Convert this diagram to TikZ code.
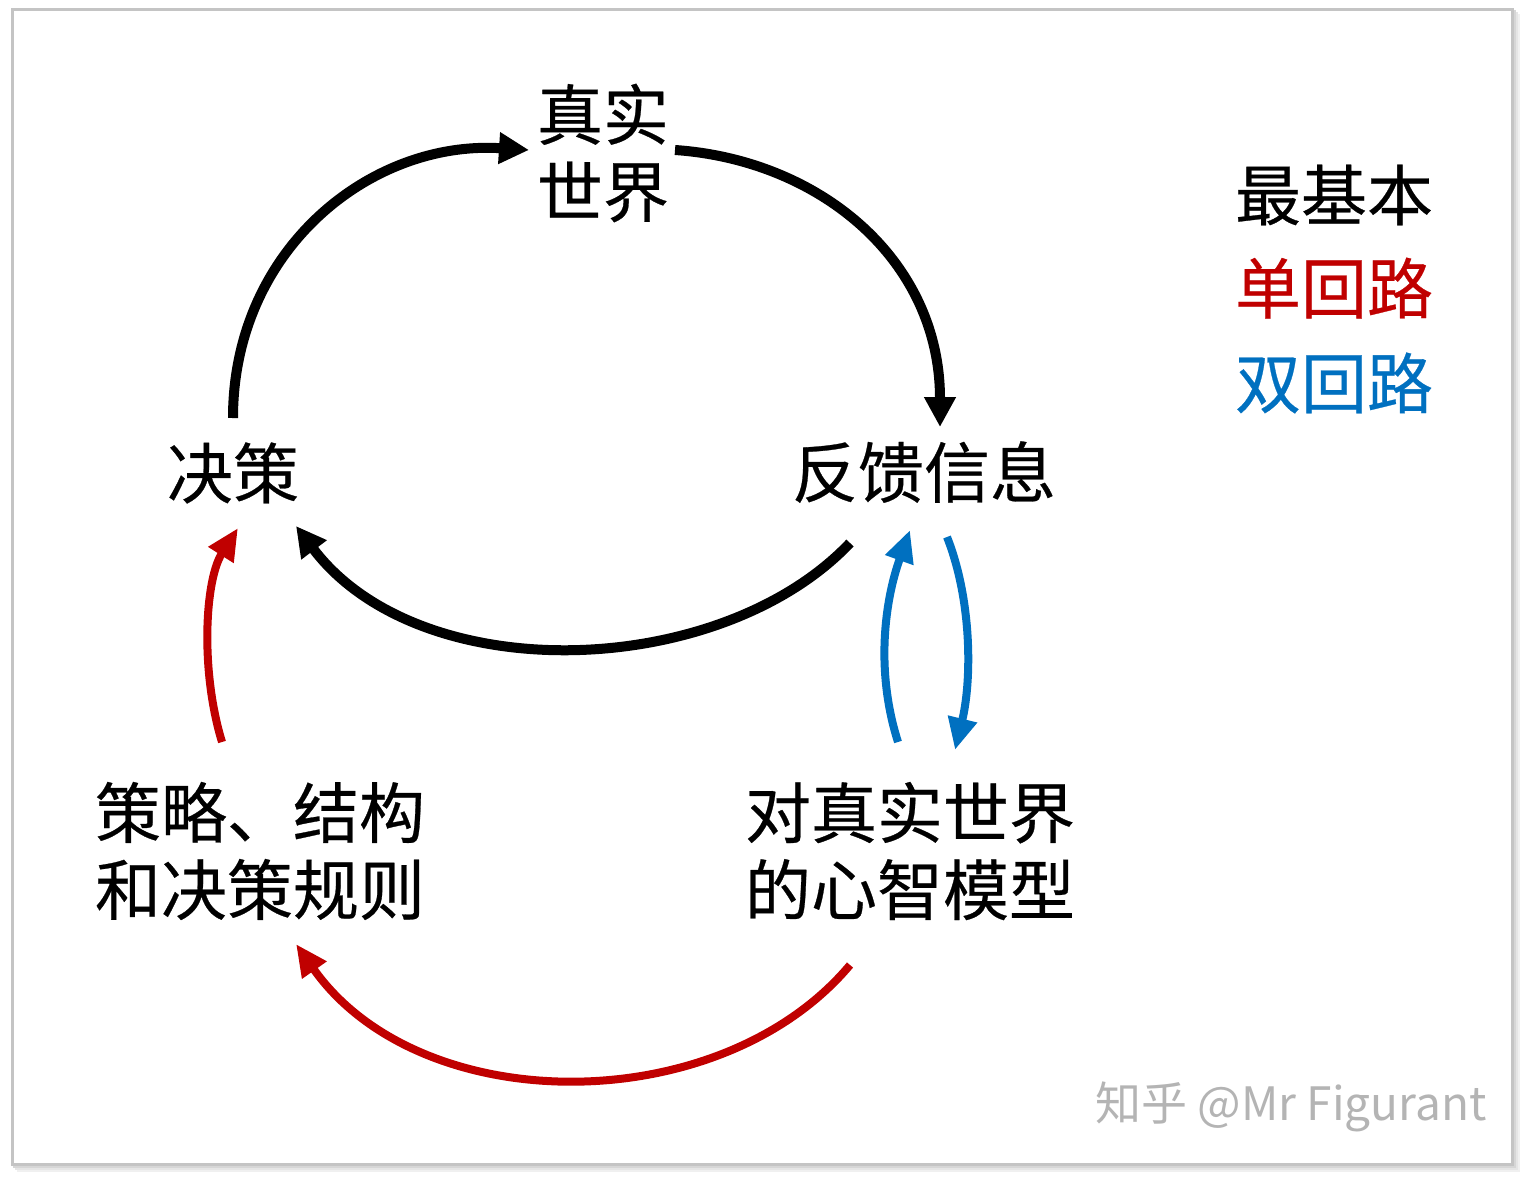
\documentclass[tikz,border=0pt]{standalone}
\usepackage{fontspec}
\setmainfont{Noto Sans CJK SC}
\newfontfamily\cjk[FakeBold=0.4]{Noto Sans CJK SC}
\newfontfamily\cjkwm{Noto Sans CJK SC}
\usetikzlibrary{arrows.meta}
\definecolor{myred}{HTML}{C00000}
\definecolor{myblue}{HTML}{0070C0}
\definecolor{frameg}{HTML}{C4C4C4}
\definecolor{wmg}{HTML}{B4B4B4}
\tikzset{
  lbl/.style={font=\cjk\fontsize{33}{38.5}\selectfont, inner sep=0pt, align=center},
  lbll/.style={font=\cjk\fontsize{33}{38.5}\selectfont, inner sep=0pt, align=left},
  blackarr/.style={line width=5pt, black, -{Triangle[length=15pt,width=15pt]}},
  redarr/.style={line width=4pt, myred, -{Triangle[length=16pt,width=14pt]}},
  bluearr/.style={line width=4pt, myblue, -{Triangle[length=16pt,width=14pt]}},
}
\begin{document}
\begin{tikzpicture}[x=0.5pt,y=-0.5pt]
\useasboundingbox (0,0) rectangle (1524,1177);
% frame with soft shadow
\foreach \o/\c in {6/black!6,4/black!10,2/black!16}{
  \draw[line width=1.5pt,\c] (12+\o,10+\o) rectangle (1512+\o,1164+\o);
}
\draw[line width=1.5pt,frameg,fill=white] (12,10) rectangle (1512,1164);

% nodes
\node[lbl] (rw) at (603,153) {真实\\世界};
\node[lbl] (jc) at (233,473) {决策};
\node[lbl] (fk) at (924,472) {反馈信息};
\node[lbll] (cl) at (260,851) {策略、结构\\和决策规则};
\node[lbll] (mx) at (910,851) {对真实世界\\的心智模型};
\node[lbl] (lg1) at (1334,195) {最基本};
\node[lbl,myred] (lg2) at (1334,288) {单回路};
\node[lbl,myblue] (lg3) at (1334,383) {双回路};
\node[font=\cjkwm\fontsize{23}{26}\selectfont, text=wmg, inner sep=0pt] (wm) at (1291,1107) {知乎 @Mr Figurant};

% connector end points
\coordinate (a1) at (233,418);
\coordinate (a2) at (529,150);
\coordinate (b1) at (675,150);
\coordinate (b2) at (940,427);
\coordinate (c1) at (850,543);
\coordinate (c2) at (296,526);
\coordinate (d1) at (222,742);
\coordinate (d2) at (238,528);
\coordinate (e1) at (850,965);
\coordinate (e2) at (296,944);
\coordinate (f1) at (898,742);
\coordinate (f2) at (910,530);
\coordinate (g1) at (947,537);
\coordinate (g2) at (955,750);

% black loop
\draw[blackarr] (a1) .. controls (233,250) and (370,140) .. (a2);
\draw[blackarr] (b1) .. controls (820,160) and (940,260) .. (b2);
\draw[blackarr] (c1) .. controls (720,680) and (420,690) .. (c2);
% red loop
\draw[redarr] (d1) .. controls (200,670) and (205,580) .. (d2);
\draw[redarr] (e1) .. controls (720,1120) and (420,1120) .. (e2);
% blue loop
\draw[bluearr] (f1) .. controls (875,670) and (885,600) .. (f2);
\draw[bluearr] (g1) .. controls (972,600) and (972,680) .. (g2);
\end{tikzpicture}
\end{document}
